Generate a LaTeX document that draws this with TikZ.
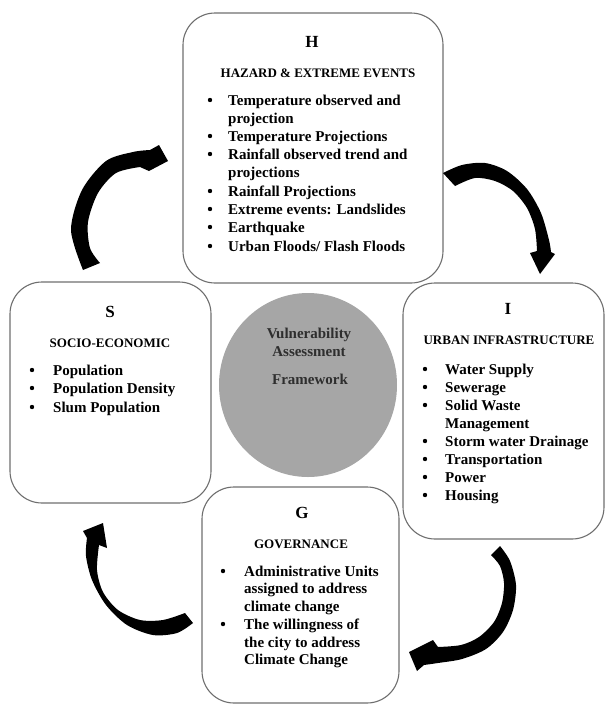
\documentclass[tikz,border=0pt]{standalone}
\usepackage{fontspec}
\setmainfont{Liberation Serif}
\usetikzlibrary{shapes.geometric}
\definecolor{edgegray}{HTML}{6E6E6E}
\definecolor{discgray}{HTML}{A6A6A6}
\definecolor{disctext}{HTML}{2E2E2E}
\begin{document}
\begin{tikzpicture}[x=1pt,y=-1pt,
  box/.style={draw=edgegray, line width=1.1pt, rounded corners=32pt, inner sep=0pt, outer sep=0pt},
  letter/.style={font=\bfseries\fontsize{17}{20}\selectfont, anchor=base, inner sep=0pt},
  headtxt/.style={font=\bfseries\fontsize{13}{16}\selectfont, anchor=base, inner sep=0pt},
  item/.style={font=\bfseries\fontsize{15}{18}\selectfont, anchor=base west, inner sep=0pt},
  ctext/.style={font=\bfseries\fontsize{15}{18}\selectfont, anchor=base, inner sep=0pt, text=disctext},
  dot/.style={circle, fill=black, inner sep=0pt, minimum size=4.4pt},
  bigarrow/.style={fill=black}]
\useasboundingbox (0,0) rectangle (607,705);

% boxes
\node[box, minimum width=260pt, minimum height=270pt] (H) at (313,148) {};
\node[box, minimum width=201pt, minimum height=256pt] (I) at (503.5,411) {};
\node[box, minimum width=197pt, minimum height=216pt] (G) at (300.5,595) {};
\node[box, minimum width=201pt, minimum height=221pt] (S) at (110.5,392.5) {};

% centre disc
\node[ellipse, fill=discgray, minimum width=178pt, minimum height=184pt, inner sep=0pt] (V) at (308,385) {};
\node[ctext] (v1) at (309,338) {Vulnerability};
\node[ctext] (v2) at (309,356) {Assessment};
\node[ctext] (v3) at (310,384) {Framework};

% H box
\node[letter] (Ht) at (312,47) {H};
\node[headtxt] (Hh) at (318,77) {HAZARD \& EXTREME EVENTS};
\node[item] (h1) at (228,105) {Temperature observed and};
\node[item] (h1b) at (228,123) {projection};
\node[item] (h2) at (228,141) {Temperature Projections};
\node[item] (h3) at (228,159) {Rainfall observed trend and};
\node[item] (h3b) at (228,177) {projections};
\node[item] (h4) at (228,196) {Rainfall Projections};
\node[item] (h5) at (228,214) {Extreme events: Landslides};
\node[item] (h6) at (228,232) {Earthquake};
\node[item] (h7) at (228,251) {Urban Floods/ Flash Floods};
\foreach \y [count=\k] in {105,141,159,196,214,232,251}
  \node[dot] (hd\k) at (210,\y-5) {};

% I box
\node[letter] (It) at (508,314) {I};
\node[headtxt] (Ih) at (509,344) {URBAN INFRASTRUCTURE};
\node[item] (i1) at (445,374) {Water Supply};
\node[item] (i2) at (445,392) {Sewerage};
\node[item] (i3) at (445,410) {Solid Waste};
\node[item] (i3b) at (445,428) {Management};
\node[item] (i4) at (445,446) {Storm water Drainage};
\node[item] (i5) at (445,464) {Transportation};
\node[item] (i6) at (445,482) {Power};
\node[item] (i7) at (445,500) {Housing};
\foreach \y [count=\k] in {374,392,410,446,464,482,500}
  \node[dot] (id\k) at (425,\y-5) {};

% S box
\node[letter] (St) at (110,317) {S};
\node[headtxt] (Sh) at (110,347) {SOCIO-ECONOMIC};
\node[item] (s1) at (53,375) {Population};
\node[item] (s2) at (53,393) {Population Density};
\node[item] (s3) at (53,412) {Slum Population};
\foreach \y [count=\k] in {375,393,412}
  \node[dot] (sd\k) at (32,\y-5) {};

% G box
\node[letter] (Gt) at (302,518) {G};
\node[headtxt] (Gh) at (301,548) {GOVERNANCE};
\node[item] (g1) at (244,576) {Administrative Units};
\node[item] (g1b) at (244,593) {assigned to address};
\node[item] (g1c) at (244,611) {climate change};
\node[item] (g2) at (244,629) {The willingness of};
\node[item] (g2b) at (244,647) {the city to address};
\node[item] (g2c) at (244,664) {Climate Change};
\foreach \y [count=\k] in {576,629}
  \node[dot] (gd\k) at (223,\y-5) {};

% curved arrows
% S -> H (top left)
\fill[bigarrow] plot[smooth] coordinates {(83,270) (71,230) (82,190) (106,161) (133,152) (150,150)}
  -- (159,145) -- (168,161) -- (149,171)
  -- plot[smooth] coordinates {(140,167) (116,173) (98,193) (88,222) (90,248) (100,263)} -- cycle;
% H -> I (top right)
\fill[bigarrow] plot[smooth] coordinates {(443,173) (462,165) (485,163) (507,171) (527,189) (541,213) (549,240) (551,252)}
  -- (555,254) -- (540,274) -- (530,253)
  -- plot[smooth] coordinates {(537,251) (535,229) (527,208) (513,191) (495,181) (475,178) (455,186)} -- cycle;
% I -> G (bottom right)
\fill[bigarrow] plot[smooth] coordinates {(500,546) (510,561) (516,585) (513,610) (503,632) (486,649) (462,659) (438,663) (424,665)}
  -- (417,671) -- (409,652) -- (433,640)
  -- plot[smooth] coordinates {(438,647) (461,645) (479,637) (494,622) (502,603) (504,583) (500,566) (491,555)} -- cycle;
% G -> S (bottom left)
\fill[bigarrow] plot[smooth] coordinates {(193,623) (177,633) (153,635) (127,625) (106,605) (92,580) (86,556) (87,538)}
  -- (83,531) -- (103,523) -- (107,548)
  -- plot[smooth] coordinates {(99,545) (97,570) (103,592) (118,610) (140,620) (163,620) (185,613)} -- cycle;
\end{tikzpicture}
\end{document}
